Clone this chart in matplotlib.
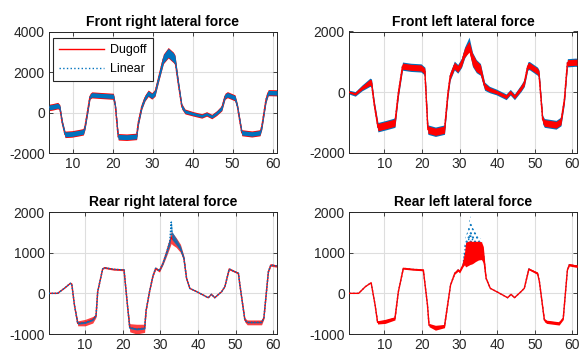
import numpy as np
import matplotlib
matplotlib.use("Agg")
import matplotlib.pyplot as plt

# ---------------- data ----------------
titles = ["Front right lateral force", "Front left lateral force",
          "Rear right lateral force", "Rear left lateral force"]
legend_labels = ["Dugoff", "Linear"]
x_ticks = [10, 20, 30, 40, 50, 60]

# Front right
fr_t = [4.1, 5.0, 6.3, 6.8, 7.4, 8.1, 9.8, 11.5, 12.7, 13.1, 13.7, 14.35, 14.8, 17.0, 20.2, 20.7,
        21.4, 23.5, 26.0, 26.4, 27.3, 28.1, 28.9, 29.8, 30.6, 31.4, 32.7, 33.9, 35.2, 35.6, 36.4,
        37.3, 38.1, 40.2, 42.3, 43.5, 44.8, 46.0, 47.3, 48.1, 48.7, 50.6, 51.2, 52.3, 54.8, 56.85,
        57.3, 58.35, 58.9, 61.1]
fr_linear = [250, 280, 340, 250, -500, -1080, -1060, -1000, -950, -700, 0, 800, 870, 840, 800, 300,
             -1200, -1220, -1180, -530, 300, 720, 950, 820, 970, 1630, 2650, 2950, 2720, 2600, 1470,
             300, 50, -70, -170, -70, -200, -30, 220, 800, 880, 720, 300, -1000, -1060, -1000,
             -700, 630, 980, 970]
fr_dugoff = fr_linear
fr_spread = [120, 120, 120, 100, 100, 120, 120, 120, 120, 100, 100, 100, 110, 110, 110, 100,
             120, 120, 120, 100, 100, 110, 120, 120, 130, 150, 200, 220, 220, 200, 150,
             100, 80, 70, 70, 70, 70, 80, 100, 110, 110, 110, 100, 110, 110, 110,
             100, 100, 110, 110]

# Front left
fl_t = [0.75, 2.26, 4.05, 6.18, 6.58, 7.3, 8.29, 10.5, 12.81, 13.72, 14.82, 17.0, 19.75, 20.76,
        21.56, 23.57, 25.98, 26.9, 27.49, 28.6, 29.5, 30.51, 31.31, 32.52, 33.42, 34.43, 35.53,
        36.64, 37.94, 39.75, 42.37, 43.47, 44.58, 46.34, 47.19, 48.1, 48.5, 50.71, 51.1, 52.07,
        52.52, 55.64, 56.94, 57.85, 58.65, 60.86, 61.2]
fl_dugoff = [0, -55, 143, 330, 300, -400, -1150, -1080, -1000, -20, 860, 820, 800, 690,
             -1230, -1300, -1230, -20, 530, 880, 770, 970, 1300, 1500, 1080, 860, 750,
             200, 90, 10, -150, 0, -150, 140, 310, 860, 880, 690, 600, -900,
             -1010, -1070, -960, -240, 970, 990, 980]
fl_linear = [0, -55, 143, 330, 300, -400, -1150, -1080, -1000, -20, 860, 820, 800, 690,
             -1230, -1300, -1230, -20, 530, 880, 770, 970, 1300, 1600, 1080, 860, 750,
             200, 90, 10, -150, 0, -150, 140, 310, 860, 880, 690, 600, -900,
             -1010, -1070, -960, -240, 970, 990, 980]
fl_spread = [30, 40, 60, 100, 100, 100, 120, 120, 120, 100, 100, 100, 100, 100,
             120, 120, 120, 100, 100, 110, 110, 120, 150, 180, 200, 180, 160,
             100, 70, 60, 60, 60, 60, 80, 90, 100, 100, 100, 100, 110,
             110, 110, 110, 100, 100, 100, 100]

# Rear right
rr_t = [0.27, 2.7, 4.48, 6.09, 6.45, 7.16, 8.03, 10.0, 12.03, 12.9, 13.34, 14.66, 15.17, 17.5,
        20.34, 21.25, 21.86, 23.68, 25.81, 26.21, 27.12, 28.04, 28.75, 29.76, 30.67, 31.58,
        32.5, 32.9, 33.1, 34.2, 35.33, 36.25, 36.96, 37.82, 39.99, 42.73, 43.59, 44.45, 46.28,
        47.14, 48.3, 50.74, 51.14, 52.46, 53.07, 56.9, 57.52, 58.71, 59.36, 60.92, 61.3]
rr_linear = [0, 0, 123, 246, 230, -288, -738, -720, -650, -550, 40, 598, 630, 590,
             575, -288, -846, -880, -860, -420, 40, 433, 615, 553, 738, 984,
             1270, 1750, 1420, 1270, 1107, 861, 369, 123, 25, -108, -25, -108, 40,
             162, 598, 492, 204, -657, -714, -714, -600, 531, 696, 672, 670]
rr_dugoff = [0, 0, 123, 246, 230, -288, -738, -720, -650, -550, 40, 598, 630, 590,
             575, -288, -846, -880, -860, -420, 40, 433, 615, 553, 738, 984,
             1250, 1380, 1350, 1250, 1107, 861, 369, 123, 25, -108, -25, -108, 40,
             162, 598, 492, 204, -657, -714, -714, -600, 531, 696, 672, 670]
rr_dugoff_spread = [0, 0, 0, 0, 0, 0, 60, 80, 80, 40, 0, 0, 20, 20,
                    20, 0, 100, 120, 100, 30, 0, 20, 30, 30, 40, 80,
                    120, 150, 150, 120, 100, 60, 20, 0, 0, 0, 0, 0, 0,
                    0, 20, 20, 0, 50, 60, 60, 30, 10, 30, 30, 30]
rr_linear_spread = [0, 0, 0, 0, 0, 0, 20, 20, 20, 10, 0, 0, 0, 0,
                    0, 0, 20, 20, 20, 0, 0, 0, 0, 0, 20, 40,
                    80, 60, 100, 80, 60, 30, 0, 0, 0, 0, 0, 0, 0,
                    0, 0, 0, 0, 0, 10, 10, 0, 0, 0, 0, 0]

# Rear left
rl_t = [0.75, 3.16, 4.93, 6.48, 7.54, 8.19, 10.2, 12.81, 13.72, 15.03, 17.5, 20.35, 21.46, 21.86,
        23.57, 25.98, 27.59, 28.7, 29.6, 30.0, 30.9, 31.3, 31.6, 32.2, 32.8, 33.2, 33.6, 34.2,
        35.0, 35.8, 36.3, 37.04, 38.15, 40.16, 42.77, 43.67, 44.58, 46.29, 47.19, 48.4, 50.71,
        51.21, 52.52, 53.12, 56.44, 57.54, 58.65, 59.15, 60.86, 61.3]
rl_dugoff = [0, 0, 162, 261, -288, -714, -690, -615, 39, 615, 590, 574, -288, -780,
             -846, -805, 204, 492, 574, 531, 696, 850, 950, 980, 1000, 1000, 1010, 1030,
             1050, 1050, 950, 369, 123, 25, -108, -25, -108, 39, 123, 598, 492,
             287, -657, -700, -740, -615, 574, 702, 672, 670]
rl_dugoff_spread = [0, 0, 0, 0, 0, 40, 50, 40, 0, 20, 20, 20, 0, 40,
                    60, 40, 0, 20, 30, 30, 40, 150, 300, 300, 290, 280, 270, 250,
                    230, 220, 200, 20, 0, 0, 0, 0, 0, 0, 0, 20, 30,
                    0, 40, 40, 40, 30, 0, 30, 30, 30]
rl_linear = [0, 0, 162, 261, -288, -714, -690, -615, 39, 615, 590, 574, -288, -780,
             -846, -805, 204, 492, 574, 531, 696, 1000, 1150, 1250, 1450, 1350, 1300, 1250,
             1200, 1150, 1000, 369, 123, 25, -108, -25, -108, 39, 123, 598, 492,
             287, -657, -700, -740, -615, 574, 702, 672, 670]
rl_linear_spread = [0, 0, 0, 0, 0, 0, 0, 0, 0, 0, 0, 0, 0, 0,
                    0, 0, 0, 0, 0, 0, 0, 200, 250, 300, 450, 350, 300, 250,
                    200, 180, 150, 0, 0, 0, 0, 0, 0, 0, 0, 0, 0,
                    0, 0, 0, 0, 0, 0, 0, 0, 0]

# ---------------- style ----------------
RED = "#FF0000"
BLUE = "#0072BD"
plt.rcParams["font.family"] = ["Liberation Sans", "DejaVu Sans"]
plt.rcParams["axes.unicode_minus"] = False
plt.rcParams["hatch.linewidth"] = 1.0

fig = plt.figure(figsize=(5.85, 3.6), dpi=100)
W, H = 585.0, 360.0


def make_ax(l, r, t, b):
    return fig.add_axes([l / W, 1 - b / H, (r - l) / W, (b - t) / H])


axes = [make_ax(49, 277, 31.5, 153), make_ax(349, 577, 31.5, 153),
        make_ax(49, 277, 212, 334), make_ax(349, 577, 212, 334)]


def band(ax, t, v, s, color, extra=0.0, alpha=1.0, z=2):
    v = np.asarray(v, float)
    s = np.asarray(s, float) + extra
    ax.fill_between(t, v - s, v + s, color=color, lw=0, alpha=alpha, zorder=z)


def style(ax, title, ylim, yticks, xlim):
    ax.set_title(title, fontsize=10, fontweight="bold", pad=4)
    ax.set_xlim(*xlim)
    ax.set_ylim(*ylim)
    ax.set_xticks(x_ticks)
    ax.set_yticks(yticks)
    ax.grid(True, color="#dedede", lw=0.8)
    ax.set_axisbelow(True)
    ax.tick_params(direction="in", length=3, width=0.6, top=True, right=True,
                   labelsize=10, colors="#262626", pad=3)
    for sp in ax.spines.values():
        sp.set_color("#262626")
        sp.set_linewidth(0.7)


# Front right: Linear on top
ax = axes[0]
band(ax, fr_t, fr_dugoff, fr_spread, RED, extra=40, z=2)
ax.plot(fr_t, fr_dugoff, color=RED, lw=1.0, zorder=3, label=legend_labels[0])
band(ax, fr_t, fr_linear, fr_spread, BLUE, z=4)
ax.plot(fr_t, fr_linear, color=BLUE, lw=1.0, ls=":", zorder=5, label=legend_labels[1])
style(ax, titles[0], (-2000, 4000), [-2000, 0, 2000, 4000], (4.1, 61.1))
leg = ax.legend(loc="upper left", bbox_to_anchor=(0.0175, 0.947), borderaxespad=0,
                fontsize=9, handlelength=3.6, fancybox=False, framealpha=1,
                edgecolor="#262626", borderpad=0.5, labelspacing=0.55, handletextpad=0.5)
leg.get_frame().set_linewidth(0.8)

# Front left: Dugoff on top
ax = axes[1]
band(ax, fl_t, fl_linear, fl_spread, BLUE, extra=35, z=2)
ax.plot(fl_t, fl_linear, color=BLUE, lw=1.0, ls=":", zorder=3)
band(ax, fl_t, fl_dugoff, fl_spread, RED, z=4)
ax.plot(fl_t, fl_dugoff, color=RED, lw=1.0, zorder=5)
style(ax, titles[1], (-2000, 2000), [-2000, 0, 2000], (0.6, 61.2))

# Rear right
ax = axes[2]
band(ax, rr_t, rr_dugoff, rr_dugoff_spread, RED, alpha=0.75, z=2)
ax.plot(rr_t, rr_dugoff, color=RED, lw=1.0, zorder=3)
band(ax, rr_t, rr_linear, rr_linear_spread, BLUE, alpha=0.8, z=4)
ax.plot(rr_t, rr_linear, color=BLUE, lw=1.1, ls=(0, (1, 1)), zorder=5)
style(ax, titles[2], (-1000, 2000), [-1000, 0, 1000, 2000], (0.4, 61.0))

# Rear left
ax = axes[3]
v = np.asarray(rl_linear, float)
s = np.asarray(rl_linear_spread, float)
ax.fill_between(rl_t, v - s, v + s, facecolor="none", edgecolor=BLUE, hatch="....",
                lw=0, zorder=2)
ax.plot(rl_t, rl_linear, color=BLUE, lw=1.0, ls=":", zorder=3)
band(ax, rl_t, rl_dugoff, rl_dugoff_spread, RED, z=4)
ax.plot(rl_t, rl_dugoff, color=RED, lw=1.0, zorder=5)
style(ax, titles[3], (-1000, 2000), [-1000, 0, 1000, 2000], (0.6, 61.2))

fig.savefig("out.png", dpi=100)
